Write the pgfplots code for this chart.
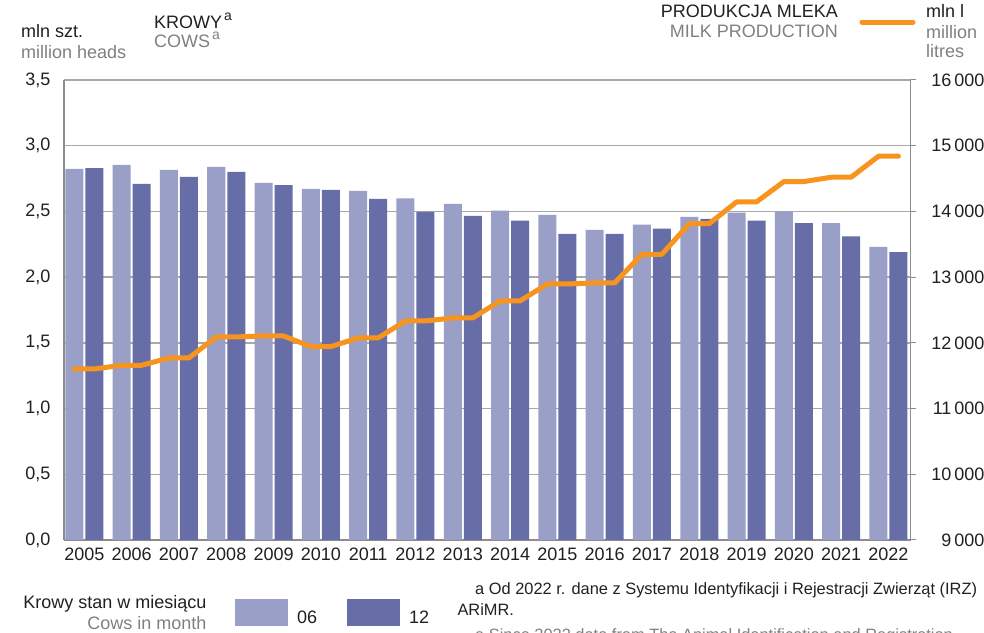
\documentclass[border=0pt]{standalone}
\usepackage{pgfplots}
\pgfplotsset{compat=1.18}
\usepackage{fontspec}
\setmainfont{Liberation Sans}
\definecolor{barA}{HTML}{9A9FC7}
\definecolor{barB}{HTML}{676DA6}
\definecolor{milk}{HTML}{F7941D}
\definecolor{txtgray}{HTML}{808080}
\definecolor{txt}{HTML}{231F20}
\definecolor{gridc}{HTML}{A8A8A8}
\definecolor{axc}{HTML}{8C8C8C}
\newcommand\f{\fontsize{18bp}{21bp}\selectfont}
\newcommand\fs{\fontsize{16.4bp}{19bp}\selectfont}
\newcommand\supa{\hspace{2bp}\raisebox{8bp}{\fontsize{14bp}{14bp}\selectfont a}}
\begin{document}
\begin{tikzpicture}[x=1bp,y=1bp]
\useasboundingbox (0,0) rectangle (984,633);
\clip (0,0) rectangle (984,633);
\begin{axis}[
  at={(64bp,93bp)}, anchor=south west,
  scale only axis, width=846.7bp, height=460bp,
  xmin=-0.43, xmax=17.47, ymin=0, ymax=3.5,
  axis x line*=bottom, axis y line*=left,
  axis line style={draw=axc, line width=1.3bp, -},
  ymajorgrids, major grid style={draw=gridc, line width=1.5bp},
  ytick={0,0.5,1,1.5,2,2.5,3,3.5},
  xtick={0,...,17},
  xticklabels={2005,2006,2007,2008,2009,2010,2011,2012,2013,2014,2015,2016,2017,2018,2019,2020,2021,2022},
  tick style={draw=none},
  ticklabel style={font=\f, text=txt},
  yticklabel style={xshift=-10bp},
  xticklabel style={yshift=-4bp},
  /pgf/number format/.cd, fixed, fixed zerofill, precision=1, use comma, assume math mode=true,
  /pgfplots/.cd,
  legend columns=2,
  legend style={at={(0.20196,-0.1576)}, anchor=west, draw=none, fill=none, inner sep=0pt, outer sep=0pt,
    nodes={inner sep=0pt, font=\f, text=txt},
    /tikz/every odd column/.append style={column sep=9bp},
    /tikz/every even column/.append style={column sep=30bp}},
  legend image code/.code={\fill[#1] (0bp,-8bp) rectangle (53bp,19bp);},
]
\addplot[ybar, bar width=18bp, bar shift=-10bp, fill=barA, draw=none] coordinates {
(0,2.823) (1,2.854) (2,2.816) (3,2.839) (4,2.717) (5,2.671) (6,2.656) (7,2.600) (8,2.557)
(9,2.506) (10,2.474) (11,2.360) (12,2.400) (13,2.458) (14,2.490) (15,2.500) (16,2.410) (17,2.230)};
\addlegendentry{06}
\addplot[ybar, bar width=18bp, bar shift=10bp, fill=barB, draw=none] coordinates {
(0,2.830) (1,2.709) (2,2.763) (3,2.800) (4,2.700) (5,2.664) (6,2.595) (7,2.496) (8,2.466)
(9,2.430) (10,2.330) (11,2.330) (12,2.370) (13,2.443) (14,2.430) (15,2.410) (16,2.310) (17,2.190)};
\addlegendentry{12}
\end{axis}
\begin{axis}[
  at={(64bp,93bp)}, anchor=south west,
  scale only axis, width=846.7bp, height=460bp,
  xmin=-0.43, xmax=17.47, ymin=9000, ymax=16000,
  axis x line=none, axis y line*=right,
  axis line style={draw=axc, line width=1.3bp, -},
  ytick={9000,10000,11000,12000,13000,14000,15000,16000},
  scaled y ticks=false,
  tick style={draw=axc, line width=1bp}, tick align=outside, major tick length=5bp,
  yticklabel style={font=\f, text=txt, anchor=east, inner sep=0pt, xshift=69bp},
  /pgf/number format/.cd, fixed, precision=0, 1000 sep={\,}, assume math mode=true,
  /pgfplots/.cd,
  legend style={at={(0.9395,1.126)}, anchor=west, draw=none, fill=none, inner sep=0pt, outer sep=0pt,
    nodes={inner sep=0pt}},
  legend image code/.code={\draw[#1] (0bp,0bp) -- (51bp,0bp);},
]
\addplot[draw=milk, line width=5bp, line join=round, line cap=round] coordinates {
(-0.21,11603) (0.21,11603) (0.79,11659) (1.21,11659) (1.79,11770) (2.21,11770)
(2.79,12090) (3.21,12090) (3.79,12105) (4.21,12105) (4.79,11943) (5.21,11943)
(5.79,12075) (6.21,12075) (6.79,12333) (7.21,12333) (7.79,12379) (8.21,12379)
(8.79,12638) (9.21,12638) (9.79,12896) (10.21,12896) (10.79,12911) (11.21,12911)
(11.79,13348) (12.21,13348) (12.79,13814) (13.21,13814) (13.79,14145) (14.21,14145)
(14.79,14454) (15.21,14454) (15.79,14520) (16.21,14520) (16.79,14840) (17.21,14840)};
\addlegendentry{}
\end{axis}
\node[anchor=base west, inner sep=0pt, font=\f, text=txt] at (21,595.7) {mln szt.};
\node[anchor=base west, inner sep=0pt, font=\f, text=txtgray] at (21,574.7) {million heads};
\node[anchor=base west, inner sep=0pt, font=\f, text=txt] at (154,604.7) {KROWY\supa};
\node[anchor=base west, inner sep=0pt, font=\f, text=txtgray] at (154,585.7) {COWS\supa};
\node[anchor=base east, inner sep=0pt, font=\f, text=txt] at (838,615.7) {PRODUKCJA MLEKA};
\node[anchor=base east, inner sep=0pt, font=\f, text=txtgray] at (838,595.7) {MILK PRODUCTION};
\node[anchor=base west, inner sep=0pt, font=\f, text=txt] at (926,615.7) {mln l};
\node[anchor=base west, inner sep=0pt, font=\f, text=txtgray] at (926,594.7) {million};
\node[anchor=base west, inner sep=0pt, font=\f, text=txtgray] at (926,575.7) {litres};
\node[anchor=base east, inner sep=0pt, font=\f, text=txt] at (206.7,24.7) {Krowy stan w miesiącu};
\node[anchor=base east, inner sep=0pt, font=\f, text=txtgray] at (206.7,3) {Cows in month};
\node[anchor=base west, inner sep=0pt, font=\fs, text=txt] at (475,38) {a Od 2022 r. dane z Systemu Identyfikacji i Rejestracji Zwierząt (IRZ)};
\node[anchor=base west, inner sep=0pt, font=\fs, text=txt] at (457.3,17.3) {ARiMR.};
\node[anchor=base west, inner sep=0pt, font=\fs, text=txtgray] at (475,-7.7) {a Since 2022 data from The Animal Identification and Registration};
\end{tikzpicture}
\end{document}
